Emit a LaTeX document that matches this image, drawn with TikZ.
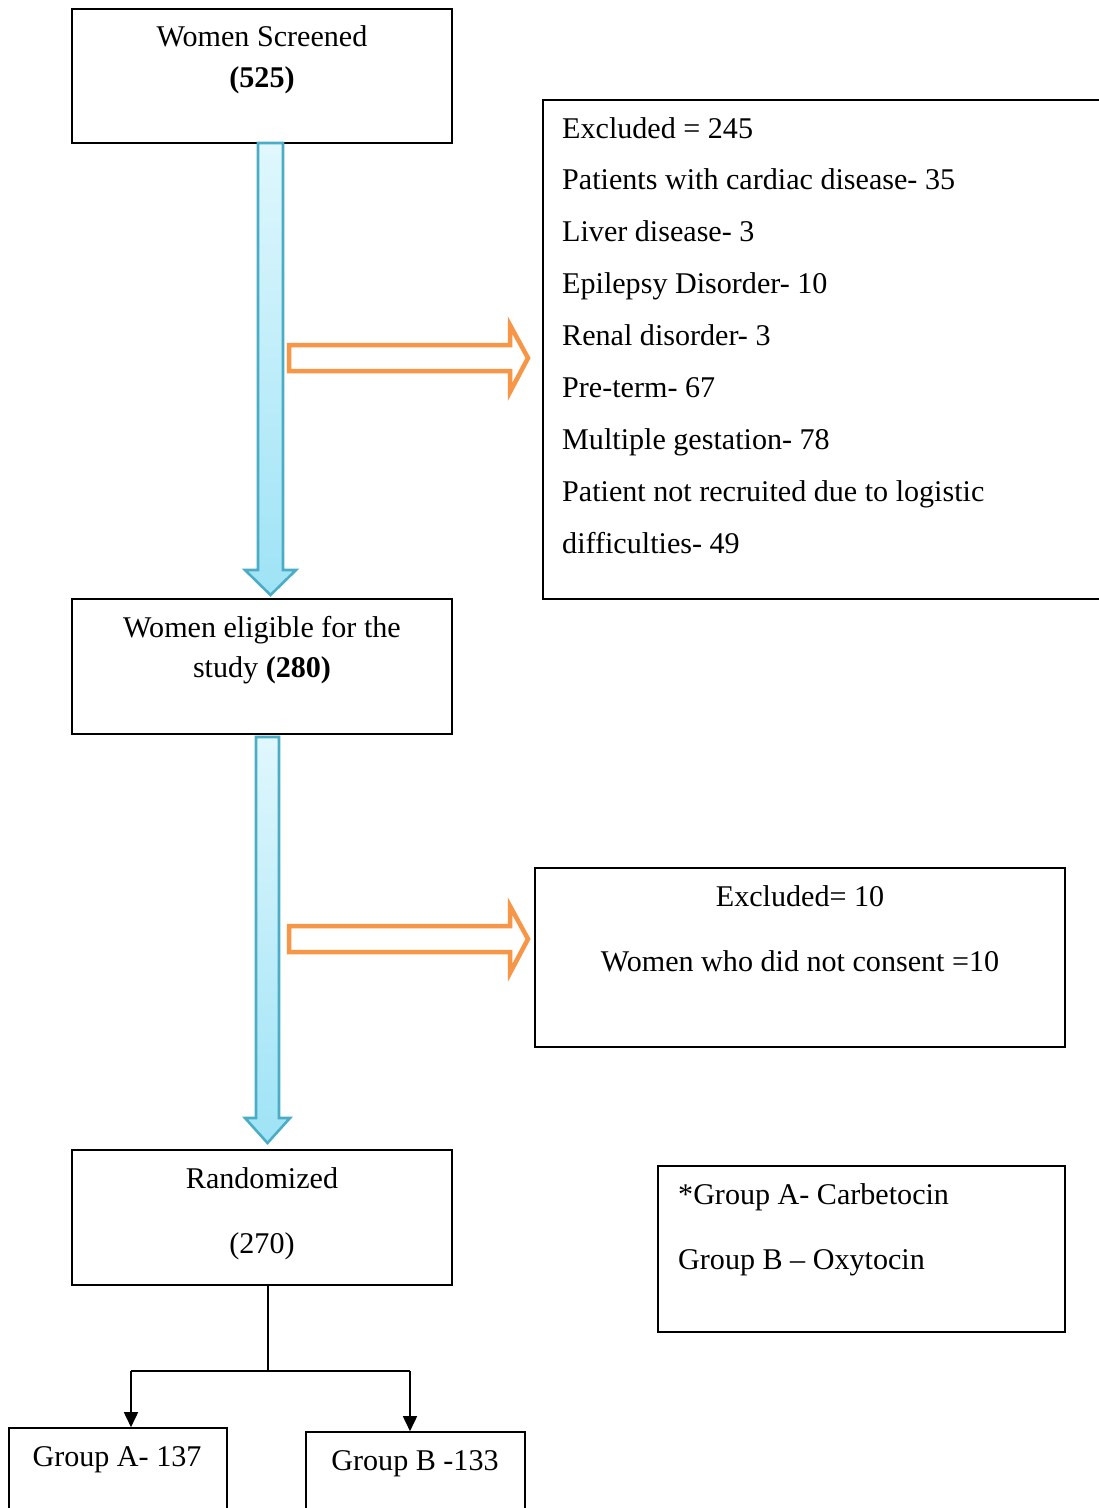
\documentclass[tikz,border=0pt]{standalone}
\usepackage{fontspec}
\setmainfont{Liberation Serif}
\usetikzlibrary{arrows.meta,positioning}

\definecolor{flowedge}{HTML}{4BACC6}
\definecolor{flowtop}{HTML}{E0F7FD}
\definecolor{flowbottom}{HTML}{9EE3F6}
\definecolor{sideorange}{HTML}{F79646}

\begin{document}
\begin{tikzpicture}[
    x=1pt,
    y=-1pt,
    >={Triangle[length=15pt,width=14pt]},
    box/.style={draw=black,line width=1.6pt,inner sep=0pt},
    txt/.style={font=\fontsize{30.1}{36}\selectfont,inner sep=0pt},
    downarrow/.style={line width=2.6pt,draw=flowedge,top color=flowtop,bottom color=flowbottom},
    sidearrow/.style={line width=4.5pt,draw=sideorange,fill=white,line join=miter},
    link/.style={line width=1.6pt,draw=black}
]

\useasboundingbox (0,0) rectangle (1099,1508);

% ---------------------------------------------------------
% Boxes
% ---------------------------------------------------------

\node[box,minimum width=380,minimum height=134] (screen) at (262,76) {};
\node[box,minimum width=567,minimum height=499] (exclA) at (826.5,349.5) {};
\node[box,minimum width=380,minimum height=135] (eligible) at (262,666.5) {};
\node[box,minimum width=530,minimum height=179] (exclB) at (800,957.5) {};
\node[box,minimum width=380,minimum height=135] (rand) at (262,1217.5) {};
\node[box,minimum width=407,minimum height=166] (legend) at (861.5,1249) {};
\node[box,minimum width=218,minimum height=102] (groupA) at (118,1479) {};
\node[box,minimum width=219,minimum height=98] (groupB) at (415.5,1481) {};

% ---------------------------------------------------------
% Texts
% ---------------------------------------------------------

\node[txt,anchor=base] (screenT) at (262,46) {Women Screened};
\node[txt,anchor=base] (screenN) at (262,87) {\textbf{(525)}};

\foreach \line [count=\i from 0] in {
    Excluded = 245,
    Patients with cardiac disease- 35,
    Liver disease- 3,
    Epilepsy Disorder- 10,
    Renal disorder- 3,
    Pre-term- 67,
    Multiple gestation- 78,
    Patient not recruited due to logistic,
    difficulties- 49}
    \node[txt,anchor=base west] (exclA\i) at (562,138+51.9*\i) {\line};

\node[txt,anchor=base] (eligibleT) at (262,637) {Women eligible for the};
\node[txt,anchor=base] (eligibleN) at (262,677) {study \textbf{(280)}};

\node[txt,anchor=base] (exclBT) at (800,906) {Excluded= 10};
\node[txt,anchor=base] (exclBN) at (800,971) {Women who did not consent =10};

\node[txt,anchor=base] (randT) at (262,1188) {Randomized};
\node[txt,anchor=base] (randN) at (262,1253) {(270)};

\node[txt,anchor=base west] (legendA) at (678,1204) {*Group A- Carbetocin};
\node[txt,anchor=base west] (legendB) at (678,1269) {Group B -- Oxytocin};

\node[txt,anchor=base] (groupAT) at (117,1466) {Group A- 137};
\node[txt,anchor=base] (groupBT) at (415,1470) {Group B -133};

% ---------------------------------------------------------
% Block arrows
% ---------------------------------------------------------

\shade[downarrow]
    (258,143) -- (283,143) -- (283,570) -- (296,570)
    -- (270.5,595) -- (245,570) -- (258,570) -- cycle;

\shade[downarrow]
    (256,737) -- (279,737) -- (279,1118) -- (290,1118)
    -- (267.5,1143) -- (245,1118) -- (256,1118) -- cycle;

\draw[sidearrow]
    (289,345) -- (510,345) -- (510,325) -- (528,358)
    -- (510,392) -- (510,371) -- (289,371) -- cycle;

\draw[sidearrow]
    (289,926) -- (510,926) -- (510,906) -- (528,939)
    -- (510,973) -- (510,952) -- (289,952) -- cycle;

% ---------------------------------------------------------
% Split into groups
% ---------------------------------------------------------

\coordinate (splitL) at (131,1371);
\coordinate (splitR) at (410,1371);

\draw[link] ([xshift=6pt]rand.south) -- ([xshift=6pt]rand.south |- splitL);
\draw[link] (splitL) -- (splitR);
\draw[link,->] (splitL) -- (splitL |- groupA.north);
\draw[link,->] (splitR) -- (splitR |- groupB.north);

\end{tikzpicture}
\end{document}
